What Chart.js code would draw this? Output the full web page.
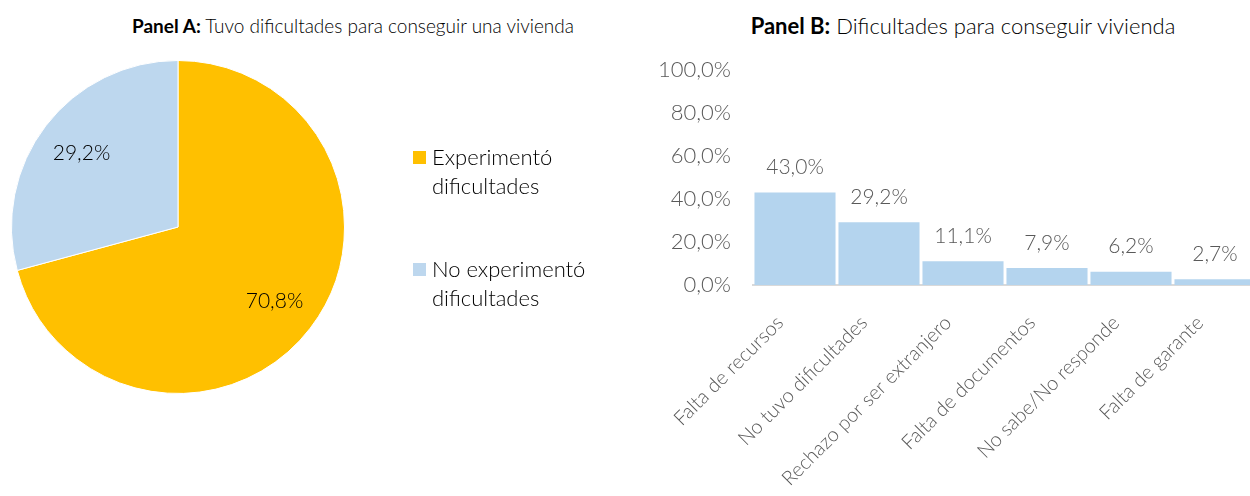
<!DOCTYPE html>
<html>
<head>
<meta charset="utf-8">
<script src="https://cdn.jsdelivr.net/npm/chart.js@4"></script>
<style>
  html, body { margin: 0; padding: 0; background: #fff; overflow: hidden; }
  body { width: 1250px; height: 496px; position: relative; font-family: Lato, "Open Sans", sans-serif; }
  .title { position: absolute; top: 14px; font-weight: 300; color: #000; white-space: nowrap; transform: translateX(-50%); }
  .title b { font-weight: 700; }
  #pieBox { position: absolute; left: 0; top: 0; width: 640px; height: 496px; }
  #barBox { position: absolute; left: 640px; top: 0; width: 620px; height: 496px; }
</style>
</head>
<body>
<div class="title" style="left:353px; font-size:19px"><b>Panel A:</b> Tuvo dificultades para conseguir una vivienda</div>
<div class="title" style="left:963px; top:12px; font-size:22px"><b>Panel B:</b> Dificultades para conseguir vivienda</div>
<div id="pieBox"><canvas id="pieChart"></canvas></div>
<div id="barBox"><canvas id="barChart"></canvas></div>
<script>
const pieLabels = [["Experimentó", "dificultades"], ["No experimentó", "dificultades"]];
const pieValues = [70.8, 29.2];
const pieColors = ["#FFC000", "#BDD7EE"];

const barLabels = ["Falta de recursos", "No tuvo dificultades", "Rechazo por ser extranjero", "Falta de documentos", "No sabe/No responde", "Falta de garante"];
const barValues = [43.0, 29.2, 11.1, 7.9, 6.2, 2.7];
const yMax = 100;
const yStep = 20;

const fmt = v => v.toFixed(1).replace(".", ",") + "%";
const FONT = "Lato, 'Open Sans', sans-serif";

// percent labels inside the pie + legend on the right
const pieExtras = {
  id: "pieExtras",
  afterDraw(chart) {
    const ctx = chart.ctx;
    const meta = chart.getDatasetMeta(0);
    ctx.save();
    ctx.font = "300 21px " + FONT;
    ctx.fillStyle = "#000";
    ctx.textAlign = "center";
    ctx.textBaseline = "middle";
    meta.data.forEach((arc, i) => {
      const mid = (arc.startAngle + arc.endAngle) / 2;
      const r = arc.outerRadius * 0.73;
      ctx.fillText(fmt(pieValues[i]), arc.x + Math.cos(mid) * r, arc.y + Math.sin(mid) * r);
    });
    // legend
    ctx.font = "300 22px " + FONT;
    ctx.textAlign = "left";
    const legendTop = [158, 270];
    pieLabels.forEach((lines, i) => {
      ctx.fillStyle = pieColors[i];
      ctx.fillRect(413, legendTop[i] - 7, 13, 13);
      ctx.fillStyle = "#000";
      lines.forEach((t, j) => ctx.fillText(t, 432, legendTop[i] + j * 29));
    });
    ctx.restore();
  }
};

new Chart(document.getElementById("pieChart"), {
  type: "pie",
  data: {
    labels: pieLabels.map(l => l.join(" ")),
    datasets: [{ data: pieValues, backgroundColor: pieColors, borderColor: "#fff", borderWidth: 1 }]
  },
  options: {
    responsive: true,
    maintainAspectRatio: false,
    animation: false,
    layout: { padding: { left: 11, top: 60, right: 295, bottom: 102 } },
    plugins: { legend: { display: false }, tooltip: { enabled: false } }
  },
  plugins: [pieExtras]
});

// value labels above bars
const barValuesPlugin = {
  id: "barValues",
  afterDatasetsDraw(chart) {
    const ctx = chart.ctx;
    const meta = chart.getDatasetMeta(0);
    ctx.save();
    ctx.font = "300 21px " + FONT;
    ctx.fillStyle = "#595959";
    ctx.textAlign = "center";
    ctx.textBaseline = "middle";
    meta.data.forEach((bar, i) => {
      ctx.fillText(fmt(barValues[i]), bar.x, bar.y - 25);
    });
    ctx.restore();
  }
};

new Chart(document.getElementById("barChart"), {
  type: "bar",
  data: {
    labels: barLabels,
    datasets: [{ data: barValues, backgroundColor: "#B4D4EE", barPercentage: 1, categoryPercentage: 0.965 }]
  },
  options: {
    responsive: true,
    maintainAspectRatio: false,
    animation: false,
    layout: { padding: { left: 0, top: 70, right: 3, bottom: 0 } },
    plugins: { legend: { display: false }, tooltip: { enabled: false } },
    scales: {
      x: {
        grid: { display: false },
        border: { display: true, color: "#D9D9D9", width: 2 },
        ticks: { color: "#595959", font: { family: FONT, size: 20, weight: 300 }, minRotation: 45, maxRotation: 45, padding: 18, labelOffset: -15 },
        afterFit(scale) { scale.height = 211; }
      },
      y: {
        min: 0,
        max: yMax,
        grid: { display: false },
        border: { display: false },
        ticks: { stepSize: yStep, color: "#595959", font: { family: FONT, size: 22, weight: 300 }, padding: 14, callback: v => fmt(v) },
        afterFit(scale) { scale.width = 113; }
      }
    }
  },
  plugins: [barValuesPlugin]
});
</script>
</body>
</html>
